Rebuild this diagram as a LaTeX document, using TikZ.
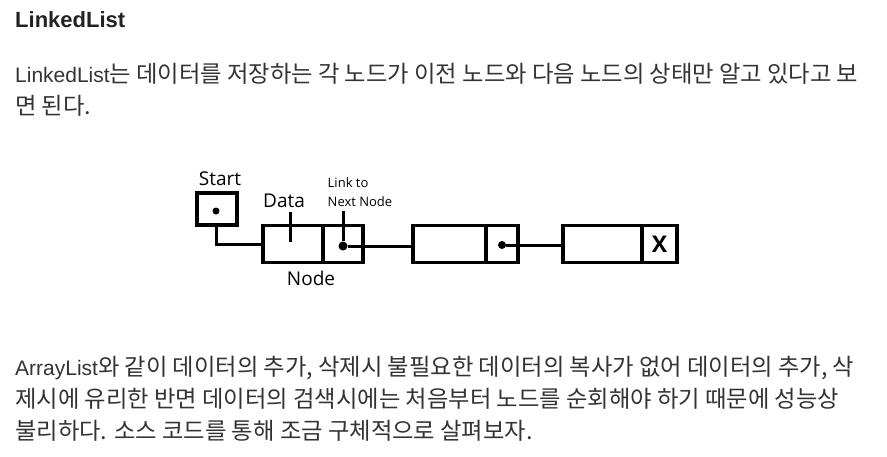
\documentclass[tikz,border=0pt]{standalone}
\usepackage{fontspec}
\usepackage{tikz}
\usetikzlibrary{positioning}
\setmainfont{Liberation Sans}
\newfontfamily\kr{Noto Sans CJK KR}
\newfontfamily\diag{Open Sans}
\definecolor{textgray}{HTML}{333333}
\definecolor{titlegray}{HTML}{222222}
\newcommand{\hg}[1]{{\kr\fontsize{23.3}{26}\selectfont #1}}

\tikzset{
  bodytext/.style={anchor=base west, inner sep=0pt, text=textgray, font=\fontsize{21}{26}\selectfont},
  cell/.style={draw, line width=3.5pt, minimum height=37pt, outer sep=0pt, inner sep=0pt},
  link/.style={line width=3pt},
  ptr/.style={circle, fill, inner sep=0pt, minimum size=8pt},
  lbl/.style={inner sep=0pt, font=\diag\fontsize{19}{22}\selectfont}
}

\begin{document}
\begin{tikzpicture}[x=1pt, y=-1pt]
\useasboundingbox (0,0) rectangle (887,456);

% header and text above
\node[bodytext, text=titlegray, font=\bfseries\fontsize{22}{26}\selectfont] (title) at (15,27) {LinkedList};
\node[bodytext] (line1) at (15,82) {LinkedList\hg{는 데이터를 저장하는 각 노드가 이전 노드와 다음 노드의 상태만 알고 있다고 보}};
\node[bodytext] (line2) at (15,114) {\hg{면 된다.}};

% the list
\node[cell, minimum width=40pt, minimum height=32pt] (start) at (217,209) {};
\node[ptr, minimum size=7pt] (startdot) at (216,211) {};
\node[lbl, anchor=base] (startlbl) at (220,185) {Start};

\node[cell, minimum width=60pt] (n1data) at (293,244) {};
\node[cell, minimum width=40pt, right=0pt of n1data] (n1link) {};
\node[ptr, minimum size=9pt] (n1dot) at ([yshift=-2pt]n1link.center) {};

\node[cell, minimum width=73pt, right=50pt of n1link] (n2data) {};
\node[cell, minimum width=32pt, right=0pt of n2data] (n2link) {};
\node[ptr] (n2dot) at ([yshift=-1pt]n2link.center) {};

\node[cell, minimum width=79pt, right=45pt of n2link] (n3data) {};
\node[cell, minimum width=35pt, right=0pt of n3data, font=\diag\bfseries\fontsize{23}{26}\selectfont] (n3link) {X};

\node[lbl, anchor=base] (datalbl) at (284,207) {Data};
\node[inner sep=0pt, align=left, font=\diag\fontsize{13}{19}\selectfont] (linklbl) at (360,192) {Link to\\Next Node};
\node[lbl, anchor=base] (nodelbl) at (311,285) {Node};

\coordinate (datatop) at (290,212);
\coordinate (datatip) at (290,242);
\coordinate (linktop) at (342,211);
\draw[link] (datatop) -- (datatip);
\draw[link] (linktop -| n1dot) -- (n1dot.north);
\draw[link] (startdot |- start.south) |- (n1data.west);
\draw[link] (n1dot) -- (n1dot -| n2data.west);
\draw[link] (n2dot) -- (n2dot -| n3data.west);

% text below
\node[bodytext] (line3) at (15,375) {ArrayList\hg{와 같이 데이터의 추가, 삭제시 불필요한 데이터의 복사가 없어 데이터의 추가, 삭}};
\node[bodytext] (line4) at (15,407) {\hg{제시에 유리한 반면 데이터의 검색시에는 처음부터 노드를 순회해야 하기 때문에 성능상}};
\node[bodytext] (line5) at (15,439) {\hg{불리하다. 소스 코드를 통해 조금 구체적으로 살펴보자.}};
\end{tikzpicture}
\end{document}
